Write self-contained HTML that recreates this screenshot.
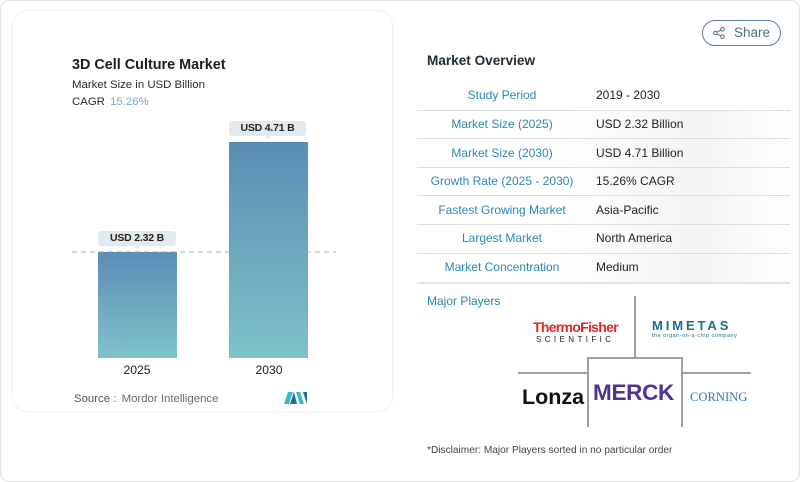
<!DOCTYPE html>
<html>
<head>
<meta charset="utf-8">
<style>
*{margin:0;padding:0;box-sizing:border-box}
html,body{width:800px;height:482px;background:#fff;overflow:hidden;font-family:"Liberation Sans",Arial,sans-serif}
.outer{position:absolute;left:0;top:0;width:800px;height:482px;border:1.5px solid #e2e2e2;border-radius:9px;background:#fff}
.card{position:absolute;left:12px;top:10px;width:381px;height:402px;border:1px solid #f1f1f1;border-radius:16px;background:#fff;box-shadow:0 0 3px rgba(0,0,0,0.03)}
.t{position:absolute;white-space:nowrap}
.bar{position:absolute;background:linear-gradient(to bottom,#5b8db4,#7ec2c9)}
.lbl{position:absolute;height:15px;background:#e3eaee;border-radius:3px;font-weight:bold;font-size:10.5px;color:#222;text-align:center;line-height:15px;letter-spacing:-0.2px}
.lbl:after{content:"";position:absolute;left:50%;bottom:-3px;margin-left:-3px;border-left:3px solid transparent;border-right:3px solid transparent;border-top:3px solid #e3eaee}
.row{position:absolute;left:417px;width:373px;height:1px;background:#dedede}
.k{position:absolute;width:170px;left:417px;text-align:center;color:#2b87b3;font-size:12px;line-height:16px;height:16px}
.v{position:absolute;left:596px;color:#222;font-size:12px;line-height:16px;height:16px}
.shade{position:absolute;left:560px;width:230px;background:linear-gradient(to right,rgba(240,240,240,0),rgba(236,236,236,0.6) 60%,rgba(240,240,240,0))}
.ln{position:absolute;background:#a0a0a0}
</style>
</head>
<body>
<div class="outer"></div>
<div class="card"></div>

<!-- left chart -->
<div class="t" style="left:72px;top:56px;font-size:14.4px;font-weight:bold;color:#1d1d1d;line-height:18px">3D Cell Culture Market</div>
<div class="t" style="left:72px;top:76.5px;font-size:11.4px;color:#2a2a2a;line-height:16px">Market Size in USD Billion</div>
<div class="t" style="left:72px;top:94px;font-size:11.4px;color:#2a2a2a;line-height:16px">CAGR <span style="color:#7ca8c6;margin-left:2px">15.26%</span></div>

<svg style="position:absolute;left:0;top:0" width="800" height="482">
  <line x1="72" y1="252" x2="336" y2="252" stroke="#b8c4ca" stroke-width="1.2" stroke-dasharray="5,4"/>
</svg>

<div class="bar" style="left:98px;top:252px;width:79px;height:106px"></div>
<div class="bar" style="left:229px;top:142px;width:79px;height:216px"></div>
<svg style="position:absolute;left:0;top:0" width="800" height="482">
  <line x1="98" y1="252" x2="177" y2="252" stroke="#8aa7bd" stroke-width="1" stroke-dasharray="5,4" opacity="0.5"/>
</svg>

<div class="lbl" style="left:229px;top:121px;width:77px">USD 4.71 B</div>
<div class="lbl" style="left:98px;top:231px;width:78px">USD 2.32 B</div>

<div class="t" style="left:107px;top:362px;width:60px;text-align:center;font-size:12.2px;color:#222;line-height:16px">2025</div>
<div class="t" style="left:239px;top:362px;width:60px;text-align:center;font-size:12.2px;color:#222;line-height:16px">2030</div>

<div class="t" style="left:74px;top:391px;font-size:11.4px;color:#555;line-height:16px">Source : <span style="color:#6a6a6a;margin-left:2px">Mordor Intelligence</span></div>
<svg style="position:absolute;left:284px;top:391px" width="24" height="14">
  <polygon points="0,13 4,1 9,1 5,13" fill="#35b8c9"/>
  <polygon points="6,13 10,1 13,13" fill="#1e6f9b"/>
  <polygon points="12,1 16,1 20,13 16,13" fill="#35b8c9"/>
  <polygon points="19,1 23,1 23,13" fill="#1e6f9b"/>
</svg>

<!-- right panel -->
<div style="position:absolute;left:702px;top:20px;width:79px;height:26px;border:1.3px solid #5f8094;border-radius:13px"></div>
<svg style="position:absolute;left:713px;top:27px" width="12" height="12">
  <circle cx="9.5" cy="2.3" r="1.8" fill="none" stroke="#4f6f84" stroke-width="1"/>
  <circle cx="2.3" cy="6" r="1.8" fill="none" stroke="#4f6f84" stroke-width="1"/>
  <circle cx="9.5" cy="9.7" r="1.8" fill="none" stroke="#4f6f84" stroke-width="1"/>
  <line x1="3.9" y1="5.1" x2="7.9" y2="3.1" stroke="#4f6f84" stroke-width="1"/>
  <line x1="3.9" y1="6.9" x2="7.9" y2="8.9" stroke="#4f6f84" stroke-width="1"/>
</svg>
<div class="t" style="left:734px;top:25px;font-size:13.5px;color:#4f6f84;line-height:16px">Share</div>

<div class="t" style="left:427px;top:52px;font-size:13.6px;font-weight:bold;color:#1f2a33;line-height:17px">Market Overview</div>

<div class="shade" style="top:111px;height:27px"></div>
<div class="shade" style="top:139px;height:28px"></div>
<div class="shade" style="top:168px;height:27px"></div>
<div class="shade" style="top:196px;height:28px"></div>
<div class="shade" style="top:225px;height:28px"></div>
<div class="shade" style="top:254px;height:28px"></div>

<div class="row" style="top:110px"></div>
<div class="row" style="top:138px"></div>
<div class="row" style="top:167px"></div>
<div class="row" style="top:195px"></div>
<div class="row" style="top:224px"></div>
<div class="row" style="top:253px"></div>
<div class="row" style="top:282px;height:1.5px;background:#e2e2e2"></div>

<div class="k" style="top:87px">Study Period</div><div class="v" style="top:87px">2019 - 2030</div>
<div class="k" style="top:115.5px">Market Size (2025)</div><div class="v" style="top:115.5px">USD 2.32 Billion</div>
<div class="k" style="top:144.5px">Market Size (2030)</div><div class="v" style="top:144.5px">USD 4.71 Billion</div>
<div class="k" style="top:173px">Growth Rate (2025 - 2030)</div><div class="v" style="top:173px">15.26% CAGR</div>
<div class="k" style="top:201.5px">Fastest Growing Market</div><div class="v" style="top:201.5px">Asia-Pacific</div>
<div class="k" style="top:230px">Largest Market</div><div class="v" style="top:230px">North America</div>
<div class="k" style="top:259px">Market Concentration</div><div class="v" style="top:259px">Medium</div>

<div class="t" style="left:427px;top:292.5px;font-size:12px;color:#2b87b3;line-height:16px">Major Players</div>

<!-- logo grid lines -->
<div class="ln" style="left:634px;top:296px;width:1.5px;height:62px"></div>
<div class="ln" style="left:518px;top:372px;width:69px;height:1.5px"></div>
<div class="ln" style="left:682px;top:372px;width:69px;height:1.5px"></div>
<div class="ln" style="left:587px;top:357px;width:96px;height:1.5px"></div>
<div class="ln" style="left:587px;top:357px;width:1.5px;height:70px"></div>
<div class="ln" style="left:681px;top:357px;width:1.5px;height:70px"></div>

<!-- logos -->
<div class="t" style="left:533px;top:319px;font-size:14px;font-weight:bold;color:#e2262b;line-height:17px;letter-spacing:-0.7px">ThermoFisher</div>
<div class="t" style="left:536px;top:335px;font-size:8px;color:#222;line-height:10px;letter-spacing:3.4px">SCIENTIFIC</div>

<div class="t" style="left:652px;top:318px;font-size:13px;font-weight:bold;color:#1d6d8c;line-height:16px;letter-spacing:2.9px">MIMETAS</div>
<div class="t" style="left:652px;top:333px;font-size:5.5px;color:#1d6d8c;line-height:7px;letter-spacing:0.5px">the organ-on-a-chip company</div>

<div class="t" style="left:522px;top:385px;font-size:21.5px;font-weight:900;color:#111;line-height:24px;letter-spacing:0px">Lonza</div>
<div class="t" style="left:593px;top:380px;font-size:22.5px;font-weight:900;color:#503291;line-height:25px;letter-spacing:-0.3px">MERCK</div>
<div class="t" style="left:690px;top:390px;font-size:12.6px;font-family:'Liberation Serif',serif;color:#2d7db3;line-height:15px">CORNING</div>

<div class="t" style="left:427px;top:443px;font-size:10.15px;color:#444;line-height:15px">*Disclaimer: Major Players sorted in no particular order</div>
</body>
</html>
